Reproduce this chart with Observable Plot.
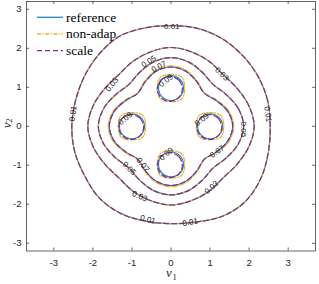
<!DOCTYPE html>
<html><head><meta charset="utf-8">
<script src="https://cdn.jsdelivr.net/npm/d3@7"></script>
<script src="https://cdn.jsdelivr.net/npm/@observablehq/plot@0.6"></script>
<style>body{margin:0;background:#fff}svg{display:block}</style>
</head><body><div id="chart"></div>
<script>
// ---- data ----
const seriesNames = ["reference", "non-adap", "scale"];
const xTicks = [-3, -2, -1, 0, 1, 2, 3];
const yTicks = [-3, -2, -1, 0, 1, 2, 3];
// contour radii (around origin) at these polar angles, degrees
const angles = [0,15,30,45,60,75,90,105,120,135,150,165,180,195,210,225,240,255,270,285,300,315,330,345];
const r001 = [2.54,2.56,2.57,2.58,2.60,2.60,2.58,2.61,2.66,2.61,2.56,2.53,2.54,2.55,2.55,2.60,2.58,2.52,2.50,2.54,2.66,2.71,2.66,2.58];
const r003 = [2.13,2.06,1.95,1.88,1.93,1.98,2.02,1.98,1.93,1.88,1.95,2.06,2.13,2.06,1.95,1.88,1.93,1.98,2.02,1.98,1.93,1.88,1.95,2.06];
const r005 = [1.86,1.78,1.63,1.52,1.60,1.71,1.76,1.71,1.60,1.52,1.63,1.78,1.86,1.78,1.63,1.52,1.60,1.71,1.76,1.71,1.60,1.52,1.63,1.78];
const r007 = [1.58,1.50,1.33,1.20,1.32,1.46,1.52,1.46,1.32,1.20,1.33,1.50,1.58,1.50,1.33,1.20,1.32,1.46,1.52,1.46,1.32,1.20,1.33,1.50];
const r007NonAdap = [1.61,1.53,1.35,1.21,1.34,1.49,1.55,1.49,1.34,1.21,1.35,1.53,1.61,1.53,1.35,1.21,1.34,1.49,1.55,1.49,1.34,1.21,1.35,1.53];
// 0.09 contours: small closed curves round four bumps
const bumpAngles = [0,45,90,135,180,225,270,315];
const bumpXRef = [1.00, 0.00, -1.00, 0.00];
const bumpYRef = [0.00, 0.98, 0.00, -0.98];
const bumpXScale = [0.98, -0.03, -1.02, -0.03];
const bumpYScale = [-0.02, 0.96, -0.02, -1.00];
const rBumpRef = [0.32,0.32,0.32,0.32,0.32,0.32,0.32,0.32];
const rBumpNonAdap = [0.35,0.39,0.35,0.39,0.35,0.39,0.35,0.39];
const rBumpScale = [0.32,0.32,0.32,0.32,0.32,0.32,0.32,0.32];
// contour labels
const labelText  = ["0.01","0.01","0.01","0.01","0.01","0.03","0.03","0.03","0.03","0.05","0.05","0.05","0.07","0.07","0.07","0.09","0.09","0.09","0.09"];
const labelX     = [0.02,-2.51,2.48,0.49,-0.59,-1.51,1.30,-0.80,1.04,-0.57,1.86,-1.07,-0.31,-0.72,1.18,-1.17,-0.13,0.79,-0.12];
const labelY     = [2.56,0.33,0.31,-2.46,-2.39,1.07,1.34,-1.80,-1.57,1.66,-0.08,-1.08,1.53,-0.99,-0.65,0.20,1.17,0.17,-0.71];
const labelAngle = [0,-83,83,-11,14,-52,44,24,-42,-32,90,45,-28,52,-35,-40,-40,-40,-40];

// ---- build table ----
const rows = [];
function ring(series, id, radii, angs, cx, cy) {
  radii.forEach((r, i) => {
    const t = angs[i] * Math.PI / 180;
    rows.push({series, id, x: cx + r * Math.cos(t), y: cy + r * Math.sin(t)});
  });
}
seriesNames.forEach(s => {
  ring(s, s + "-001", r001, angles, 0, 0);
  ring(s, s + "-003", r003, angles, 0, 0);
  ring(s, s + "-005", r005, angles, 0, 0);
  ring(s, s + "-007", s === "non-adap" ? r007NonAdap : r007, angles, 0, 0);
  for (let k = 0; k < 4; k++) {
    if (s === "reference") ring(s, s + "-009-" + k, rBumpRef, bumpAngles, bumpXRef[k], bumpYRef[k]);
    if (s === "non-adap") ring(s, s + "-009-" + k, rBumpNonAdap, bumpAngles, bumpXRef[k], bumpYRef[k]);
    if (s === "scale") ring(s, s + "-009-" + k, rBumpScale, bumpAngles, bumpXScale[k], bumpYScale[k]);
  }
});
const labels = labelText.map((t, i) => ({t, x: labelX[i], y: labelY[i], a: labelAngle[i]}));

const colors = {"reference": "#1E86D2", "non-adap": "#EDB120", "scale": "#7E2F8E"};
const dashes = {"reference": null, "non-adap": "4,1.6,1,1.6", "scale": "5,3"};

const W = 319, H = 284, mL = 26, mR = 4, mT = 1, mB = 33.5;
const pw = W - mL - mR, ph = H - mT - mB;
const axisColor = "#262626";

const lineMarks = seriesNames.map(s => Plot.line(rows.filter(d => d.series === s), {
  x: "x", y: "y", z: "id", curve: "catmull-rom-closed",
  stroke: colors[s], strokeWidth: 1.2, strokeDasharray: dashes[s]
}));

const svg = Plot.plot({
  width: W, height: H,
  marginLeft: mL, marginRight: mR, marginTop: mT, marginBottom: mB,
  style: {fontFamily: "'Liberation Sans', Arial, sans-serif", fontSize: "9.5px", background: "#fff", overflow: "visible"},
  x: {domain: [-3.7, 3.7]},
  y: {domain: [-3.2, 3.2]},
  marks: [
    ...lineMarks,
    Plot.text(labels, {x: "x", y: "y", text: "t", rotate: "a", fontSize: 8, fill: "#222",
      fontFamily: "'Liberation Sans', Arial, sans-serif"}),
    Plot.frame({stroke: axisColor, strokeWidth: 0.7}),
    Plot.ruleX(xTicks, {x: d => d, insetTop: ph - 3, stroke: axisColor, strokeWidth: 0.7}),
    Plot.ruleX(xTicks, {x: d => d, insetBottom: ph - 3, stroke: axisColor, strokeWidth: 0.7}),
    Plot.ruleY(yTicks, {y: d => d, insetRight: pw - 3, stroke: axisColor, strokeWidth: 0.7}),
    Plot.ruleY(yTicks, {y: d => d, insetLeft: pw - 3, stroke: axisColor, strokeWidth: 0.7}),
    Plot.axisX(xTicks, {anchor: "bottom", tickSize: 0, tickPadding: 8, tickFormat: d => String(d), label: null, fill: axisColor}),
    Plot.axisY(yTicks, {anchor: "left", tickSize: 0, tickPadding: 5, tickFormat: d => String(d), label: null, fill: axisColor}),
    Plot.text(["v"], {frameAnchor: "bottom", text: d => d, dy: 26, dx: -2, fontSize: 13, fontStyle: "italic",
      fontFamily: "'Liberation Serif', serif", fill: axisColor}),
    Plot.text(["1"], {frameAnchor: "bottom", text: d => d, dy: 29, dx: 3.5, fontSize: 8.5,
      fontFamily: "'Liberation Serif', serif", fill: axisColor}),
    Plot.text(["v"], {frameAnchor: "left", text: d => d, dx: -20, dy: 2, rotate: -90, fontSize: 13, fontStyle: "italic",
      fontFamily: "'Liberation Serif', serif", fill: axisColor}),
    Plot.text(["2"], {frameAnchor: "left", text: d => d, dx: -17, dy: -3.5, rotate: -90, fontSize: 8.5,
      fontFamily: "'Liberation Serif', serif", fill: axisColor})
  ]
});

// legend (inside the axes, upper left)
const lg = d3.select(svg).append("g").attr("text-anchor", "start");
seriesNames.forEach((s, i) => {
  const yy = 17.3 + i * 16.7;
  lg.append("line").attr("x1", 37).attr("x2", 63).attr("y1", yy).attr("y2", yy)
    .attr("stroke", colors[s]).attr("stroke-width", 1.3)
    .attr("stroke-dasharray", dashes[s] || null);
  lg.append("text").attr("x", 66).attr("y", yy).attr("dy", "0.32em")
    .attr("text-anchor", "start")
    .attr("font-family", "'Liberation Serif', serif").attr("font-size", 13.5)
    .attr("fill", "#000").text(s);
});
document.getElementById("chart").appendChild(svg);
</script>
</body></html>
